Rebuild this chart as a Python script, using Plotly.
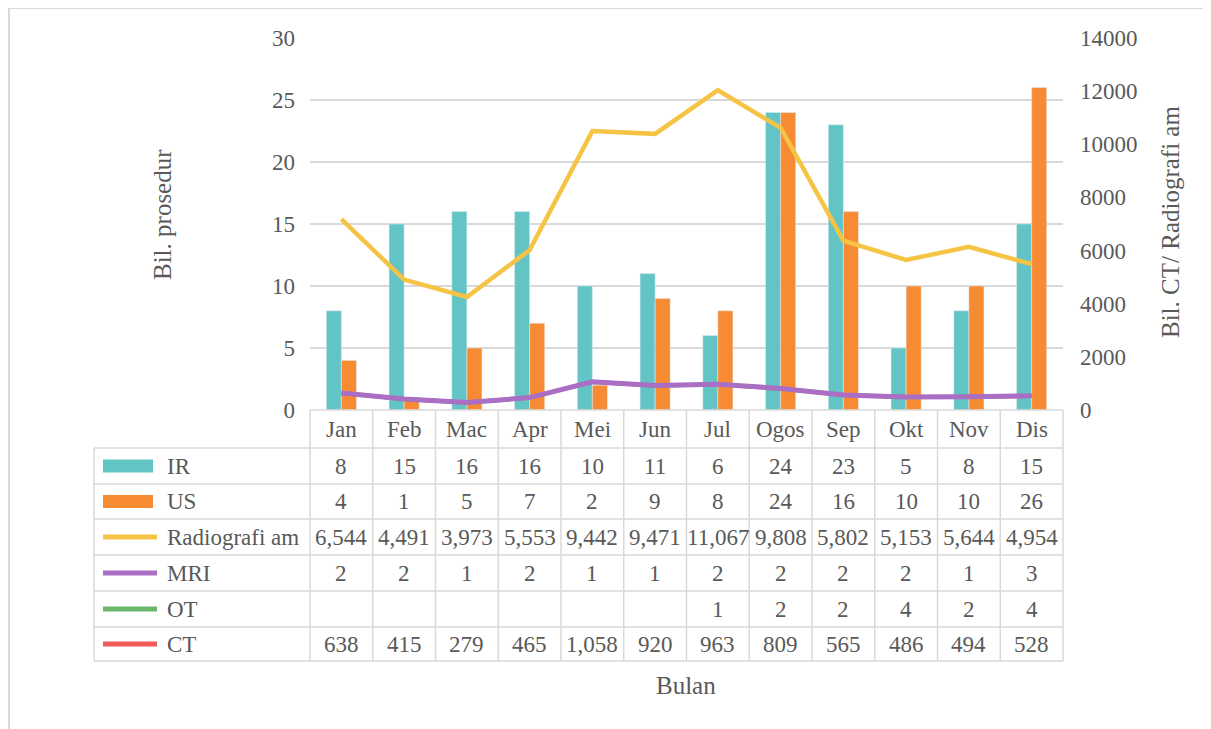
import plotly.graph_objects as go

months = ["Jan", "Feb", "Mac", "Apr", "Mei", "Jun", "Jul", "Ogos", "Sep", "Okt", "Nov", "Dis"]
ir = [8, 15, 16, 16, 10, 11, 6, 24, 23, 5, 8, 15]
us = [4, 1, 5, 7, 2, 9, 8, 24, 16, 10, 10, 26]
radiografi = [6544, 4491, 3973, 5553, 9442, 9471, 11067, 9808, 5802, 5153, 5644, 4954]
mri = [2, 2, 1, 2, 1, 1, 2, 2, 2, 2, 1, 3]
ot = [None, None, None, None, None, None, 1, 2, 2, 4, 2, 4]
ct = [638, 415, 279, 465, 1058, 920, 963, 809, 565, 486, 494, 528]

left_ticks = [0, 5, 10, 15, 20, 25, 30]
right_ticks = [0, 2000, 4000, 6000, 8000, 10000, 12000, 14000]

C_IR = "#62C4C4"
C_US = "#F78B34"
C_RAD = "#F6C445"
C_MRI = "#AA6FC4"
C_OT = "#6BB86A"
C_CT = "#F05A57"
TXT = "#595959"
GRID = "#D9D9D9"
FONT = "Liberation Serif"

W, H = 1211, 729
OFF = 8  # page body margin
L, R, T, B = 310, 1063, 38, 410


def xp(px):
    return (px - L) / (R - L)


def yp(py):
    return (B - py) / (B - T)


fig = go.Figure()
fig.add_trace(go.Bar(x=months, y=ir, name="IR", marker_color=C_IR, yaxis="y"))
fig.add_trace(go.Bar(x=months, y=us, name="US", marker_color=C_US, yaxis="y"))

# stacked lines on secondary axis (CT bottom, then OT, MRI, Radiografi am)
for name, vals, col, w in [("CT", ct, C_CT, 4), ("OT", ot, C_OT, 4),
                           ("MRI", mri, C_MRI, 5), ("Radiografi am", radiografi, C_RAD, 4.5)]:
    fig.add_trace(go.Scatter(x=months, y=vals, name=name, mode="lines", yaxis="y2",
                             stackgroup="lines", fill="none",
                             line=dict(color=col, width=w, shape="linear"),
                             hoverinfo="skip"))

shapes = []
annotations = []

# Outer border (top and left visible)
shapes.append(dict(type="line", xref="paper", yref="paper", x0=xp(9), x1=xp(1215), y0=yp(8), y1=yp(8),
                   line=dict(color="#D9D9D9", width=2)))
shapes.append(dict(type="line", xref="paper", yref="paper", x0=xp(9), x1=xp(9), y0=yp(8), y1=yp(735),
                   line=dict(color="#D9D9D9", width=2)))

# Data table grid
row_bounds = [410, 448, 484, 519, 555, 591, 627, 661]
tbl_left = 94
for i, yb in enumerate(row_bounds):
    x0 = L if i == 0 else tbl_left
    shapes.append(dict(type="line", xref="paper", yref="paper", x0=xp(x0), x1=xp(R), y0=yp(yb), y1=yp(yb),
                       line=dict(color=GRID, width=1.5)))
col_w = (R - L) / 12
for k in range(13):
    xx = L + k * col_w
    shapes.append(dict(type="line", xref="paper", yref="paper", x0=xp(xx), x1=xp(xx), y0=yp(410), y1=yp(661),
                       line=dict(color=GRID, width=1.5)))
shapes.append(dict(type="line", xref="paper", yref="paper", x0=xp(tbl_left), x1=xp(tbl_left), y0=yp(448), y1=yp(661),
                   line=dict(color=GRID, width=1.5)))

fnt = dict(family=FONT, size=23, color=TXT)

for m in months:
    annotations.append(dict(x=m, xref="x", y=yp((410 + 448) / 2), yref="paper", text=m, showarrow=False,
                            font=fnt, xanchor="center", yanchor="middle"))


def fmt(v):
    if v is None:
        return ""
    return f"{v:,}"


rows = [("IR", ir, C_IR, "bar"), ("US", us, C_US, "bar"), ("Radiografi am", radiografi, C_RAD, "line"),
        ("MRI", mri, C_MRI, "line"), ("OT", ot, C_OT, "line"), ("CT", ct, C_CT, "line")]
for r, (name, vals, col, kind) in enumerate(rows):
    y0b, y1b = row_bounds[r + 1], row_bounds[r + 2]
    yc = (y0b + y1b) / 2
    if kind == "bar":
        shapes.append(dict(type="rect", xref="paper", yref="paper", x0=xp(103), x1=xp(153),
                           y0=yp(yc - 6.5), y1=yp(yc + 6.5), fillcolor=col, line=dict(width=0)))
    else:
        shapes.append(dict(type="line", xref="paper", yref="paper", x0=xp(103), x1=xp(157),
                           y0=yp(yc), y1=yp(yc), line=dict(color=col, width=5)))
    annotations.append(dict(x=xp(165), xref="paper", y=yp(yc), yref="paper", text=name, showarrow=False,
                            font=fnt, xanchor="left", yanchor="middle"))
    for m, v in zip(months, vals):
        annotations.append(dict(x=m, xref="x", y=yp(yc), yref="paper", text=fmt(v), showarrow=False,
                                font=fnt, xanchor="center", yanchor="middle"))

tfont = dict(family=FONT, size=25, color=TXT)
annotations.append(dict(x=xp(686), xref="paper", y=yp(685), yref="paper", text="Bulan", showarrow=False,
                        font=tfont, xanchor="center", yanchor="middle"))
annotations.append(dict(x=xp(162), xref="paper", y=yp(215), yref="paper", text="Bil. prosedur", showarrow=False,
                        textangle=-90, font=tfont, xanchor="center", yanchor="middle"))
annotations.append(dict(x=xp(1170), xref="paper", y=yp(222), yref="paper", text="Bil. CT/ Radiografi am",
                        showarrow=False, textangle=-90, font=tfont, xanchor="center", yanchor="middle"))

fig.update_layout(
    width=W - OFF, height=H - OFF,
    margin=dict(l=L - OFF, r=W - R, t=T - OFF, b=H - B, pad=0),
    paper_bgcolor="white", plot_bgcolor="white",
    barmode="group", bargap=0.52, bargroupgap=0,
    showlegend=False,
    font=dict(family=FONT, size=23, color=TXT),
    xaxis=dict(showticklabels=False, showgrid=False, zeroline=False, showline=False, ticks=""),
    yaxis=dict(range=[0, 30], tickvals=left_ticks, showgrid=True, gridcolor=GRID, gridwidth=1.5,
               zeroline=False, showline=False, ticks="", ticklabelstandoff=14,
               tickfont=dict(family=FONT, size=23, color=TXT)),
    yaxis2=dict(range=[0, 14000], tickvals=right_ticks, tickformat="d", overlaying="y", side="right",
                showgrid=False, zeroline=False, showline=False, ticks="", ticklabelstandoff=16,
                tickfont=dict(family=FONT, size=23, color=TXT)),
    shapes=shapes, annotations=annotations,
)

fig.write_html("out.html")
